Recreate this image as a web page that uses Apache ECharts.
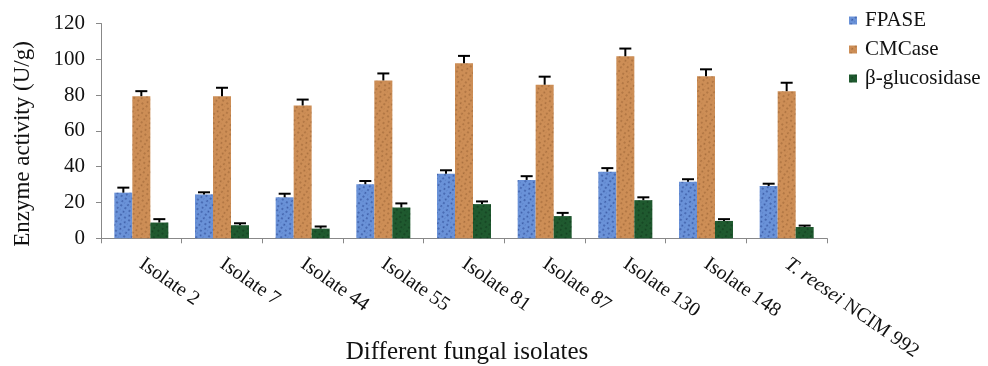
<!DOCTYPE html>
<html>
<head>
<meta charset="utf-8">
<script src="https://cdn.jsdelivr.net/npm/echarts@6/dist/echarts.min.js"></script>
<style>
html,body{margin:0;padding:0;background:#fff;}
#main{width:988px;height:366px;}
</style>
</head>
<body>
<div id="main"></div>
<script>
var categories = ['Isolate 2','Isolate 7','Isolate 44','Isolate 55','Isolate 81','Isolate 87','Isolate 130','Isolate 148','T. reesei NCIM 992'];
var seriesNames = ['FPASE','CMCase','β-glucosidase'];
var fpase = [25.5, 24.5, 22.9, 30.2, 36.0, 32.6, 37.2, 31.6, 29.2];
var fpaseErr = [2.8, 1.2, 2.0, 1.8, 2.0, 2.1, 2.0, 1.4, 1.3];
var cmcase = [79.4, 79.4, 74.2, 88.2, 97.8, 85.8, 101.7, 90.6, 82.2];
var cmcaseErr = [2.8, 4.7, 3.3, 3.9, 4.1, 4.5, 4.3, 3.8, 4.7];
var bgluc = [8.8, 7.3, 5.4, 17.2, 19.1, 12.4, 21.3, 9.7, 6.3];
var bglucErr = [1.9, 1.1, 1.2, 2.3, 1.5, 1.8, 1.6, 1.0, 0.8];
var yTicks = [0, 20, 40, 60, 80, 100, 120];

var FONT = 'Liberation Serif';
var colors = ['#6a92d8', '#cd8e56', '#1f5a2f'];
var decalColors = ['rgba(20,45,120,0.55)', 'rgba(120,70,30,0.45)', 'rgba(10,40,20,0.5)'];

var values = [fpase, cmcase, bgluc];
var errs = [fpaseErr, cmcaseErr, bglucErr];
var BAR_W = 18;

var chart = echarts.init(document.getElementById('main'), null, {renderer: 'canvas'});

var series = [];
seriesNames.forEach(function (name, si) {
  series.push({
    name: name,
    type: 'bar',
    data: values[si],
    barWidth: BAR_W,
    barGap: '0%',
    itemStyle: {
      color: colors[si],
      decal: {
        symbol: 'circle',
        symbolSize: 0.9,
        color: decalColors[si],
        dashArrayX: [[2, 3], [1, 2, 3, 1]],
        dashArrayY: [2, 2],
        rotation: 0.6
      }
    },
    emphasis: {disabled: true},
    silent: true
  });
});
seriesNames.forEach(function (name, si) {
  var d = values[si].map(function (v, i) { return [i, v, errs[si][i]]; });
  series.push({
    type: 'custom',
    name: name + ' err',
    data: d,
    encode: {x: 0, y: 1},
    silent: true,
    z: 5,
    renderItem: function (params, api) {
      var idx = api.value(0);
      var v = api.value(1);
      var e = api.value(2);
      var p0 = api.coord([idx, v]);
      var p1 = api.coord([idx, v + e]);
      var x = p0[0] + (si - 1) * BAR_W;
      return {
        type: 'group',
        children: [
          {type: 'line', shape: {x1: x, y1: p0[1], x2: x, y2: p1[1]}, style: {stroke: '#000', lineWidth: 2}},
          {type: 'line', shape: {x1: x - 6, y1: p1[1], x2: x + 6, y2: p1[1]}, style: {stroke: '#000', lineWidth: 2}}
        ]
      };
    }
  });
});

chart.setOption({
  animation: false,
  aria: {enabled: true, decal: {show: false}},
  grid: {left: 101, right: 161, top: 23.5, bottom: 127.7, containLabel: false},
  legend: {
    orient: 'vertical',
    left: 844,
    top: 5,
    itemWidth: 8,
    itemHeight: 8,
    itemGap: 8,
    icon: 'rect',
    data: seriesNames,
    textStyle: {fontFamily: FONT, fontSize: 21, color: '#111', padding: [0, 0, 0, 3]}
  },
  xAxis: {
    type: 'category',
    data: categories,
    boundaryGap: true,
    axisLine: {lineStyle: {color: '#888', width: 1}},
    axisTick: {show: true, alignWithLabel: false, length: 5, lineStyle: {color: '#888'}},
    axisLabel: {
      interval: 0,
      rotate: -35,
      margin: 24,
      fontFamily: FONT,
      fontSize: 20,
      color: '#111',
      formatter: function (v) {
        if (v.indexOf('T. reesei') === 0) {
          return '{i|T. reesei}' + v.slice(9);
        }
        return v;
      },
      rich: {i: {fontStyle: 'italic', fontFamily: FONT, fontSize: 20, color: '#111'}}
    }
  },
  yAxis: {
    type: 'value',
    min: yTicks[0],
    max: yTicks[yTicks.length - 1],
    interval: yTicks[1] - yTicks[0],
    splitLine: {show: false},
    axisLine: {show: true, lineStyle: {color: '#888', width: 1}},
    axisTick: {show: true, length: 5, lineStyle: {color: '#888'}},
    axisLabel: {fontFamily: FONT, fontSize: 21, color: '#111', margin: 16}
  },
  graphic: [
    {
      type: 'text',
      x: 23, y: 144,
      rotation: Math.PI / 2,
      style: {text: 'Enzyme activity (U/g)', fontFamily: FONT, fontSize: 23, fill: '#111', align: 'center', verticalAlign: 'middle'}
    },
    {
      type: 'text',
      x: 467, y: 352,
      style: {text: 'Different fungal isolates', fontFamily: FONT, fontSize: 25, fill: '#111', align: 'center', verticalAlign: 'middle'}
    }
  ],
  series: series
});
</script>
</body>
</html>
